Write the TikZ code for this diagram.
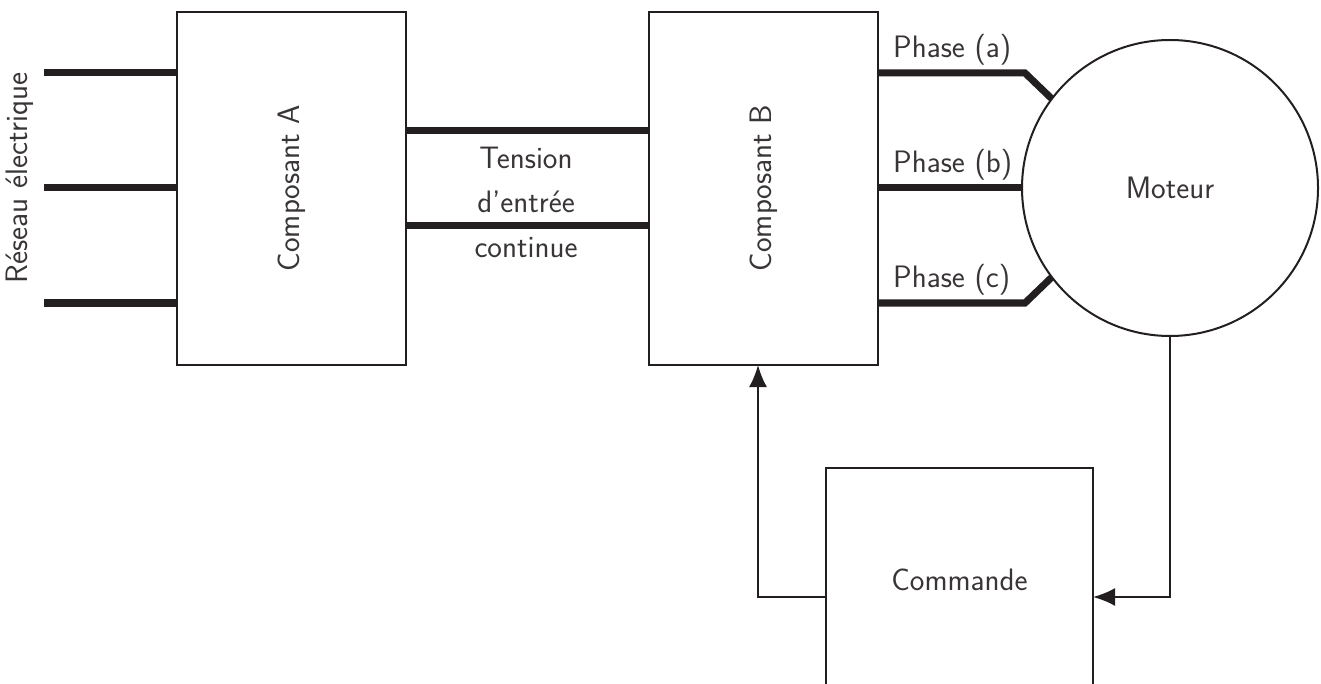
\documentclass[tikz,border=0pt]{standalone}
\usetikzlibrary{arrows.meta}
\definecolor{ink}{HTML}{231F20}
\begin{document}
\begin{tikzpicture}[x=1pt,y=-1pt,
  every node/.style={font=\sffamily\fontsize{31}{37}\selectfont, text=ink!90, inner sep=0pt},
  box/.style={draw=ink, line width=2pt},
  thick line/.style={draw=ink, line width=7pt},
  thin line/.style={draw=ink, line width=2pt},
  arr/.style={thin line, -{Latex[length=22pt,width=18pt]}}]
\useasboundingbox (0,0) rectangle (1321,684);
\clip (0,0) rectangle (1321,684);
% boxes
\draw[box] (177,12) rectangle (406,365);
\node[rotate=90] (A) at (291.5,188) {Composant A};
\draw[box] (649,12) rectangle (878,365);
\node[rotate=90] (B) at (763.5,188) {Composant B};
\draw[box] (1170,188) circle (148);
\node (M) at (1170,188) {Moteur};
\draw[box] (826,700) -- (826,468) -- (1093,468) -- (1093,700);
\node (C) at (959.5,580) {Commande};
% mains
\node[rotate=90] (R) at (20,178) {Réseau électrique};
\coordinate (r1) at (44,73); \coordinate (r1e) at (177,73);
\coordinate (r2) at (44,188); \coordinate (r2e) at (177,188);
\coordinate (r3) at (44,303); \coordinate (r3e) at (177,303);
\draw[thick line] (r1) -- (r1e);
\draw[thick line] (r2) -- (r2e);
\draw[thick line] (r3) -- (r3e);
% DC link
\coordinate (d1) at (406,131); \coordinate (d1e) at (649,131);
\coordinate (d2) at (406,226); \coordinate (d2e) at (649,226);
\draw[thick line] (d1) -- (d1e);
\draw[thick line] (d2) -- (d2e);
\node (t1) at (526,158) {Tension};
\node (t2) at (526,202) {d’entrée};
\node (t3) at (526,248) {continue};
% phases
\coordinate (pa) at (878,73); \coordinate (pab) at (1025,73); \coordinate (pae) at (1052,99);
\coordinate (pb) at (878,188); \coordinate (pbe) at (1022,188);
\coordinate (pc) at (878,303); \coordinate (pcb) at (1025,303); \coordinate (pce) at (1052,277);
\draw[thick line, line join=miter] (pa) -- (pab) -- (pae);
\draw[thick line] (pb) -- (pbe);
\draw[thick line, line join=miter] (pc) -- (pcb) -- (pce);
\node[anchor=west] (la) at (893,50) {Phase (a)};
\node[anchor=west] (lb) at (893,165) {Phase (b)};
\node[anchor=west] (lc) at (893,280) {Phase (c)};
% control loop
\coordinate (mb) at (1170,336);
\coordinate (mc) at (1170,597);
\coordinate (cr) at (1093,597);
\draw[arr] (mb) -- (mc) -- (cr);
\coordinate (cl) at (826,597);
\coordinate (cc) at (758,597);
\coordinate (bb) at (758,365);
\draw[arr] (cl) -- (cc) -- (bb);
\end{tikzpicture}
\end{document}
